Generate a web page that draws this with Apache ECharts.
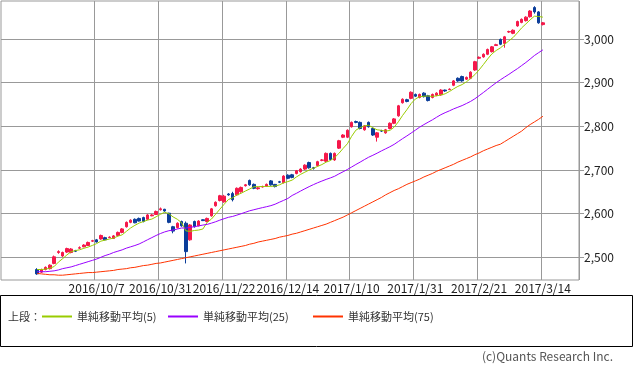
<!DOCTYPE html>
<html><head><meta charset="utf-8">
<script src="https://cdn.jsdelivr.net/npm/echarts@6/dist/echarts.min.js"></script>
<style>html,body{margin:0;padding:0;background:#fff}#c{width:633px;height:369px}</style>
</head><body><div id="c"></div>
<script>
const dates = [
'2016/9/15','2016/9/16','2016/9/20','2016/9/21','2016/9/23','2016/9/26','2016/9/27','2016/9/28','2016/9/29','2016/9/30',
'2016/10/3','2016/10/4','2016/10/5','2016/10/6','2016/10/7','2016/10/11','2016/10/12','2016/10/13','2016/10/14','2016/10/17',
'2016/10/18','2016/10/19','2016/10/20','2016/10/21','2016/10/24','2016/10/25','2016/10/26','2016/10/27','2016/10/28','2016/10/31',
'2016/11/1','2016/11/2','2016/11/4','2016/11/7','2016/11/8','2016/11/9','2016/11/10','2016/11/11','2016/11/14','2016/11/15',
'2016/11/16','2016/11/17','2016/11/18','2016/11/21','2016/11/22','2016/11/24','2016/11/25','2016/11/28','2016/11/29','2016/11/30',
'2016/12/1','2016/12/2','2016/12/5','2016/12/6','2016/12/7','2016/12/8','2016/12/9','2016/12/12','2016/12/13','2016/12/14',
'2016/12/15','2016/12/16','2016/12/19','2016/12/20','2016/12/21','2016/12/22','2016/12/26','2016/12/27','2016/12/28','2016/12/29',
'2016/12/30','2017/1/4','2017/1/5','2017/1/6','2017/1/10','2017/1/11','2017/1/12','2017/1/13','2017/1/16','2017/1/17',
'2017/1/18','2017/1/19','2017/1/20','2017/1/23','2017/1/24','2017/1/25','2017/1/26','2017/1/27','2017/1/30','2017/1/31',
'2017/2/1','2017/2/2','2017/2/3','2017/2/6','2017/2/7','2017/2/8','2017/2/9','2017/2/10','2017/2/13','2017/2/14',
'2017/2/15','2017/2/16','2017/2/17','2017/2/20','2017/2/21','2017/2/22','2017/2/23','2017/2/24','2017/2/27','2017/2/28',
'2017/3/1','2017/3/2','2017/3/3','2017/3/6','2017/3/7','2017/3/8','2017/3/9','2017/3/10','2017/3/13','2017/3/14'];

const opens = [
2472,2466,2472,2474,2486,2511,2503,2512,2511,2515, 2521,2524,2527,2537,2540,2542,2545,2545,2543,2550,
2557,2570,2580,2587,2589,2591,2587,2595,2598,2609, 2610,2601,2570,2568,2582,2578,2540,2582,2572,2586,
2582,2595,2618,2630,2627,2645,2646,2643,2650,2664, 2676,2667,2657,2661,2663,2675,2667,2673,2671,2688,
2689,2692,2696,2702,2717,2705,2710,2722,2720,2738, 2723,2750,2775,2775,2799,2811,2809,2792,2809,2795,
2775,2790,2785,2795,2807,2824,2854,2861,2864,2873, 2866,2876,2870,2866,2871,2872,2883,2884,2894,2910,
2914,2908,2910,2929,2956,2959,2965,2971,2985,2999, 2990,3016,3013,3030,3038,3042,3051,3072,3062,3033];

const closes = [
2462,2472,2477,2482,2501,2513,2511,2520,2519,2514, 2522,2528,2534,2538,2535,2550,2540,2546,2549,2557,
2565,2580,2585,2579,2583,2582,2597,2597,2605,2611, 2606,2580,2560,2578,2572,2513,2574,2570,2583,2584,
2589,2611,2626,2641,2640,2643,2632,2658,2660,2666, 2666,2658,2659,2662,2667,2666,2662,2672,2686,2681,
2683,2698,2702,2711,2705,2704,2719,2723,2738,2724, 2738,2767,2780,2791,2809,2809,2795,2801,2799,2780,
2785,2789,2792,2807,2817,2847,2862,2857,2878,2869, 2873,2868,2859,2873,2876,2883,2881,2885,2904,2904,
2904,2912,2924,2948,2958,2965,2976,2982,2987,2988, 3005,3017,3020,3040,3045,3050,3064,3062,3037,3037];

const lows = [
2460,2464,2470,2472,2484,2508,2501,2510,2509,2512, 2519,2523,2526,2535,2534,2540,2539,2544,2542,2548,
2555,2568,2578,2578,2582,2580,2585,2594,2597,2607, 2604,2578,2555,2566,2570,2486,2538,2568,2571,2583,
2580,2593,2616,2628,2625,2641,2628,2641,2648,2662, 2664,2656,2655,2660,2662,2664,2660,2670,2669,2679,
2681,2690,2694,2700,2703,2701,2708,2720,2718,2722, 2721,2748,2773,2773,2797,2807,2793,2790,2797,2778,
2765,2787,2783,2793,2805,2822,2852,2855,2862,2867, 2864,2866,2857,2864,2869,2870,2879,2883,2892,2902,
2902,2906,2908,2927,2954,2957,2963,2969,2984,2986, 2980,3014,3011,3028,3036,3040,3049,3058,3035,3031];

const highs = [
2475,2474,2479,2484,2504,2516,2513,2522,2521,2517, 2525,2530,2536,2540,2542,2552,2547,2548,2551,2559,
2567,2582,2587,2589,2591,2593,2599,2599,2607,2614, 2611,2602,2572,2580,2584,2582,2576,2584,2585,2587,
2591,2613,2628,2643,2643,2647,2650,2660,2662,2668, 2678,2669,2661,2664,2669,2677,2668,2675,2688,2690,
2691,2700,2704,2713,2719,2707,2721,2725,2740,2740, 2740,2769,2782,2793,2811,2813,2811,2803,2811,2797,
2787,2792,2794,2809,2819,2849,2864,2863,2880,2875, 2875,2878,2872,2875,2878,2885,2884,2887,2906,2912,
2916,2914,2926,2950,2960,2967,2978,2984,2989,3001, 3007,3019,3022,3042,3047,3052,3066,3075,3064,3039];

const ma5 = [
2472,2472,2473,2475,2478.8,2489,2496.8,2505.4,2512.8,2515.4, 2517.2,2520.6,2523.4,2527.2,2531.4,2537,2539.4,2541.8,2544,2548.4,
2551.4,2559.4,2567.2,2573.2,2578.4,2581.8,2585.2,2587.6,2592.8,2598.4, 2603.2,2599.8,2592.4,2587,2579.2,2560.6,2559.4,2561.4,2562.4,2564.8,
2580,2587.4,2598.6,2610.2,2621.4,2632.2,2636.4,2642.8,2646.6,2651.8, 2656.4,2661.6,2661.8,2662.2,2662.4,2662.4,2663.2,2665.8,2670.6,2673.4,
2676.8,2684,2690,2695,2699.8,2704,2708.2,2712.4,2717.8,2721.6, 2728.4,2738,2749.4,2760,2777,2791.2,2796.8,2801,2802.6,2796.8,
2792,2790.8,2789,2790.6,2798,2810.4,2825,2838,2852.2,2862.6, 2867.8,2869,2869.4,2868.4,2869.8,2871.8,2874.4,2879.6,2885.8,2891.4,
2895.6,2901.8,2909.6,2918.4,2929.2,2941.4,2954.2,2965.8,2973.6,2979.6, 2987.6,2995.8,3003.4,3014,3025.4,3034.4,3043.8,3052.2,3051.6,3050];

const ma25 = [
2467,2467,2467,2468,2469,2471,2474,2476,2478,2481, 2484,2487,2490,2493,2496,2500,2504,2507,2511,2514,
2517,2521,2524,2527,2530.5,2535.3,2540.3,2545.1,2550,2554.4, 2558.1,2560.9,2562.5,2564.8,2567.2,2566.8,2568.6,2570.1,2571.9,2573.8,
2575.4,2578.2,2581.4,2585.1,2588.4,2591.6,2593.6,2596.6,2599.8,2603.1, 2606.5,2608.9,2611.4,2613.7,2615.9,2618.3,2621.6,2626.1,2630.4,2634.8,
2641.6,2646.5,2651.8,2656.9,2661.8,2666.4,2670.7,2674.6,2678.4,2681.8, 2685.6,2691,2695.9,2701.1,2706.8,2712.6,2718,2723.7,2729.2,2733.7,
2738.5,2743.6,2748.4,2753.2,2758.6,2765.2,2771.8,2778,2784.6,2791.2, 2798,2803.9,2809.4,2814.8,2820.8,2826.6,2831.2,2835.4,2839.9,2843.7,
2847.5,2852.2,2857.1,2863.1,2870.2,2877.4,2884.9,2892.5,2899.7,2906.5, 2912.8,2919,2925.6,2932,2939.1,2946.2,2954,2962.1,2968.7,2975.1];

const ma75 = [
2463,2462,2461,2460,2460,2459,2459,2460,2461,2462, 2463,2464,2465,2465,2466,2467,2468,2469,2470,2472,
2473,2474,2476,2477,2479,2481,2482,2484,2486,2487, 2489,2491,2493,2495,2497,2499,2501,2503,2505,2507,
2509,2511,2513,2515,2517,2519,2521,2523,2525,2527, 2530,2532,2535,2537,2539,2541,2543,2546,2548,2550,
2553,2555,2558,2561,2564,2567,2570,2573,2576,2580, 2584,2588,2592,2597,2602,2607,2612,2617,2622,2627,
2632,2637,2643,2648,2653,2657,2662,2667,2671,2675, 2679,2684,2688,2692,2697,2701,2705,2709,2713,2718,
2722,2726,2730,2735,2739,2744,2748,2752,2756,2759, 2765,2771,2777,2783,2789,2797,2804,2810,2816,2823];

const tickDates = ['2016/10/7','2016/10/31','2016/11/22','2016/12/14','2017/1/10','2017/1/31','2017/2/21','2017/3/14'];
const yTicks = [2500,2600,2700,2800,2900,3000];
const seriesNames = ['単純移動平均(5)','単純移動平均(25)','単純移動平均(75)'];

const PAD = 8;
const padL = Array.from({length: PAD}, (_, i) => 'L' + i);
const padR = Array.from({length: PAD}, (_, i) => 'R' + i);
const categories = padL.concat(dates, padR);
const emptyC = Array.from({length: PAD}, () => ['-','-','-','-']);
const emptyL = Array.from({length: PAD}, () => '-');
const candles = emptyC.concat(dates.map((d, i) => [opens[i], closes[i], lows[i], highs[i]]), emptyC);
const wrap = arr => emptyL.concat(arr, emptyL);
const tickSet = new Set(tickDates);
const showTick = (idx, val) => tickSet.has(val);

const FONT = '"Noto Sans CJK JP", "Noto Sans", sans-serif';
const chart = echarts.init(document.getElementById('c'));
const legendBase = {
  icon: 'rect', itemWidth: 30, itemHeight: 2, itemGap: 0, padding: 0, top: 311,
  textStyle: {fontFamily: FONT, fontSize: 11, color: '#333'}
};
chart.setOption({
  animation: false,
  textStyle: {fontFamily: FONT},
  grid: {left: 1, right: 54, top: 1, bottom: 89, show: true, borderColor: '#999', borderWidth: 1, containLabel: false},
  legend: [
    Object.assign({}, legendBase, {data: [seriesNames[0]], left: 42}),
    Object.assign({}, legendBase, {data: [seriesNames[1]], left: 168}),
    Object.assign({}, legendBase, {data: [seriesNames[2]], left: 313})
  ],
  xAxis: {
    type: 'category', data: categories, boundaryGap: true,
    axisLine: {show: false}, axisTick: {show: false},
    axisLabel: {interval: showTick, hideOverlap: false, margin: 2, fontFamily: FONT, fontSize: 12, color: '#222'},
    splitLine: {show: true, interval: showTick, lineStyle: {color: '#999', width: 1}}
  },
  yAxis: {
    type: 'value', position: 'right', min: 2448, max: 3087, scale: true,
    axisLine: {show: false},
    axisTick: {show: true, length: 5, customValues: yTicks, lineStyle: {color: '#999'}},
    axisLabel: {customValues: yTicks, margin: 5, fontFamily: FONT, fontSize: 12, color: '#222',
      formatter: v => v.toLocaleString('en-US')},
    splitLine: {show: true, lineStyle: {color: '#999', width: 1}}
  },
  series: [
    {type: 'candlestick', data: candles, barWidth: 3,
     itemStyle: {color: '#f5184a', color0: '#0b3d9a', borderColor: '#f5184a', borderColor0: '#0b3d9a', borderWidth: 1}},
    {name: seriesNames[0], type: 'line', data: wrap(ma5), showSymbol: false, symbol: 'none', lineStyle: {color: '#99cc00', width: 1}, itemStyle: {color: '#99cc00'}},
    {name: seriesNames[1], type: 'line', data: wrap(ma25), showSymbol: false, symbol: 'none', lineStyle: {color: '#9900ff', width: 1}, itemStyle: {color: '#9900ff'}},
    {name: seriesNames[2], type: 'line', data: wrap(ma75), showSymbol: false, symbol: 'none', lineStyle: {color: '#ff3300', width: 1}, itemStyle: {color: '#ff3300'}}
  ],
  graphic: [
    {type: 'rect', shape: {x: 0.5, y: 295.5, width: 632, height: 51}, style: {fill: 'none', stroke: '#000', lineWidth: 1}, silent: true},
    {type: 'text', left: 8, top: 311, style: {text: '上段：', font: '11px ' + FONT, fill: '#333'}},
    {type: 'text', right: 20, top: 350, style: {text: '(c)Quants Research Inc.', font: '12px ' + FONT, fill: '#555'}}
  ]
});
</script></body></html>
